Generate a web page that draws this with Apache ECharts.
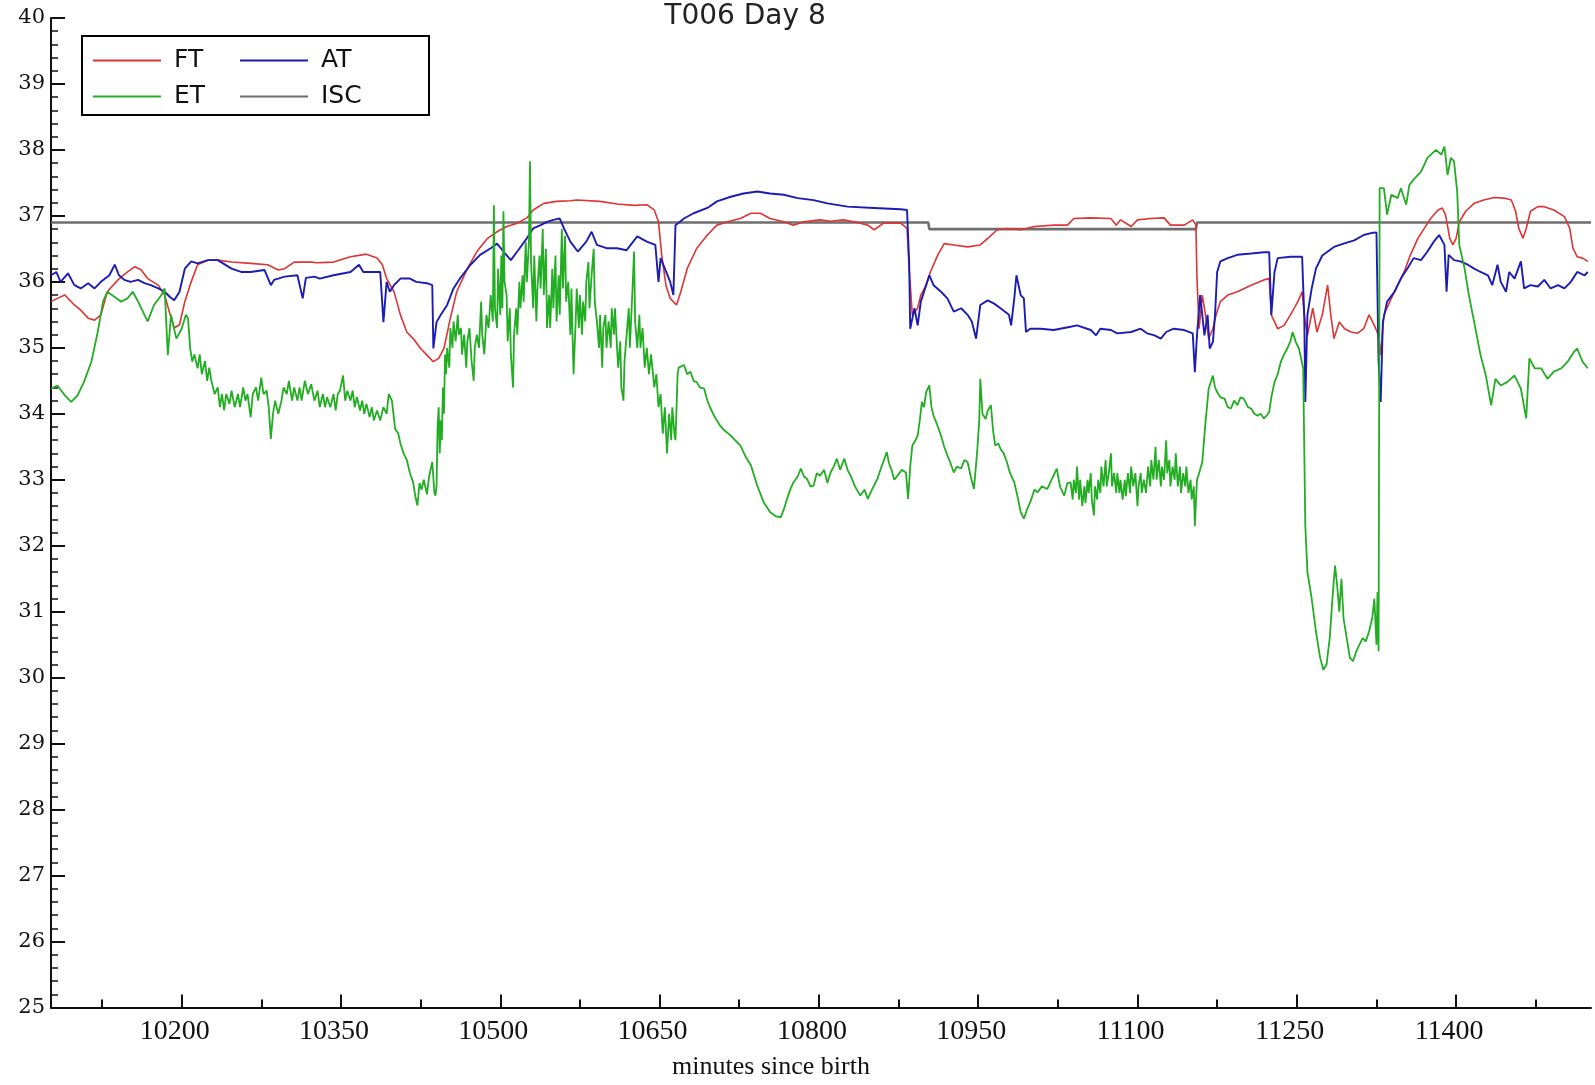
<!DOCTYPE html>
<html>
<head>
<meta charset="utf-8">
<script src="https://cdn.jsdelivr.net/npm/echarts@6/dist/echarts.min.js"></script>
<style>
html,body{margin:0;padding:0;background:#fff;}
#chart{width:1595px;height:1085px;}
</style>
</head>
<body>
<div id="chart"></div>
<script>
const titleText = 'T006 Day 8';
const xAxisName = 'minutes since birth';
const xMajorTicks = [10200, 10350, 10500, 10650, 10800, 10950, 11100, 11250, 11400];
const xMinorTicks = [10125, 10275, 10425, 10575, 10725, 10875, 11025, 11175, 11325, 11475];
const xRange = [10077, 11527];
const yRange = [25, 40];

const ftData = [
[10077,35.70],[10083,35.75],[10090,35.80],[10099,35.65],[10105,35.57],[10112,35.45],[10118,35.42],[10124,35.50],[10130,35.85],[10140,36.03],[10149,36.15],[10156,36.23],[10162,36.18],[10168,36.05],[10178,35.95],[10184,35.80],[10188,35.57],[10193,35.30],[10198,35.35],[10203,35.70],[10209,36.00],[10215,36.26],[10225,36.33],[10234,36.33],[10247,36.30],[10265,36.28],[10281,36.26],[10291,36.18],[10297,36.20],[10306,36.30],[10322,36.30],
[10327,36.29],[10343,36.30],[10359,36.38],[10374,36.42],[10384,36.36],[10389,36.26],[10393,36.05],[10400,35.85],[10406,35.50],[10412,35.24],[10418,35.14],[10425,34.99],[10431,34.89],[10437,34.79],[10442,34.84],[10447,34.99],[10453,35.45],[10459,35.85],[10469,36.20],[10478,36.46],[10488,36.66],[10497,36.76],[10506,36.84],[10516,36.89],[10525,36.97],[10531,37.09],[10541,37.19],[10553,37.22],[10566,37.23],
[10572,37.24],[10594,37.22],[10610,37.18],[10626,37.16],[10638,37.17],[10645,37.09],[10649,36.91],[10652,36.41],[10656,35.95],[10660,35.75],[10666,35.65],[10670,35.85],[10676,36.20],[10685,36.51],[10695,36.71],[10704,36.86],[10714,36.91],[10726,36.96],[10736,37.04],[10745,37.04],[10754,36.96],[10767,36.91],[10776,36.86],[10786,36.91],[10801,36.94],
[10811,36.92],[10823,36.94],[10839,36.89],[10846,36.86],[10852,36.79],[10861,36.89],[10877,36.89],[10883,36.81],[10885,36.20],[10888,35.50],[10893,35.60],[10896,35.80],[10901,35.95],[10905,36.15],[10912,36.41],[10918,36.58],[10927,36.56],[10940,36.53],[10952,36.56],[10959,36.66],[10968,36.79],[10977,36.81],[10990,36.79],[11003,36.84],[11021,36.86],[11034,36.86],
[11040,36.96],[11056,36.97],[11075,36.96],[11080,36.86],[11084,36.94],[11094,36.84],[11100,36.94],[11112,36.96],[11125,36.97],[11131,36.86],[11144,36.86],[11152,36.94],[11155,36.86],[11156,36.05],[11158,35.29],[11161,35.80],[11164,35.50],[11167,35.14],[11171,35.29],[11174,35.50],[11178,35.70],[11185,35.80],[11194,35.85],[11207,35.95],[11219,36.03],[11224,36.05],[11226,35.50],[11232,35.29],[11238,35.34],[11244,35.50],[11251,35.70],[11255,35.85],[11257,35.50],
[11260,35.19],[11265,35.60],[11269,35.24],[11274,35.50],[11279,35.95],[11282,35.50],[11285,35.14],[11290,35.39],[11295,35.29],[11301,35.24],[11307,35.22],[11313,35.29],[11318,35.50],[11323,35.34],[11327,35.19],[11329,34.89],[11332,35.50],[11339,35.75],[11345,35.95],[11351,36.15],[11357,36.41],[11364,36.66],[11370,36.81],[11376,36.96],[11383,37.09],[11387,37.12],[11390,37.02],[11394,36.66],[11397,36.56],[11400,36.66],[11403,36.91],[11409,37.07],[11417,37.19],[11426,37.24],[11436,37.28],[11445,37.27],[11452,37.24],[11456,37.07],[11459,36.81],[11463,36.66],[11466,36.81],[11470,37.07],[11477,37.14],[11483,37.14],[11492,37.09],[11502,36.99],[11507,36.81],[11510,36.51],[11514,36.38],[11519,36.36],[11524,36.31]
];

const atData = [
[10077,36.10],[10082,36.15],[10086,36.00],[10093,36.13],[10099,35.95],[10105,35.90],[10112,35.98],[10118,35.90],[10124,36.00],[10132,36.10],[10137,36.26],[10141,36.10],[10146,36.03],[10152,36.00],[10159,36.03],[10165,35.98],[10171,35.95],[10178,35.90],[10184,35.85],[10189,35.77],[10193,35.72],[10198,35.85],[10203,36.20],[10209,36.31],[10215,36.28],[10225,36.33],[10234,36.33],[10247,36.20],[10256,36.15],[10265,36.15],[10278,36.18],[10284,35.95],[10287,36.03],[10297,36.08],[10309,36.10],[10314,35.75],[10317,36.06],[10325,36.08],
[10330,36.05],[10343,36.10],[10359,36.15],[10367,36.26],[10371,36.15],[10387,36.15],[10390,35.39],[10393,36.00],[10396,35.85],[10400,35.95],[10406,36.05],[10415,36.05],[10421,36.00],[10431,35.98],[10436,35.95],[10437,34.99],[10440,35.39],[10444,35.50],[10450,35.65],[10456,35.90],[10462,36.05],[10472,36.26],[10481,36.41],[10491,36.51],[10497,36.58],[10503,36.46],[10510,36.33],[10516,36.46],[10525,36.66],[10531,36.81],[10538,36.86],[10544,36.91],[10550,36.94],[10556,36.96],[10560,36.81],
[10566,36.61],[10573,36.46],[10581,36.61],[10586,36.76],[10591,36.56],[10600,36.51],[10610,36.51],[10619,36.48],[10629,36.69],[10638,36.61],[10646,36.56],[10649,36.00],[10651,36.36],[10655,36.20],[10660,36.00],[10663,35.80],[10665,36.86],[10673,36.96],[10682,37.04],[10695,37.12],[10704,37.22],[10717,37.29],[10729,37.34],[10742,37.37],[10754,37.34],[10767,37.32],[10780,37.27],[10795,37.24],
[10808,37.19],[10827,37.14],[10852,37.12],[10877,37.10],[10883,37.09],[10885,36.31],[10886,35.29],[10890,35.60],[10893,35.34],[10896,35.70],[10901,35.95],[10904,36.10],[10908,35.95],[10915,35.85],[10921,35.75],[10927,35.55],[10934,35.60],[10940,35.50],[10944,35.40],[10948,35.14],[10952,35.65],[10959,35.72],[10965,35.67],[10971,35.60],[10979,35.50],[10981,35.34],[10984,35.75],[10986,36.10],[10990,35.80],[10993,35.75],[10995,35.24],[10999,35.29],[11009,35.29],[11021,35.27],[11037,35.32],
[11043,35.34],[11056,35.27],[11061,35.19],[11065,35.29],[11075,35.27],[11081,35.22],[11094,35.24],[11103,35.29],[11109,35.22],[11116,35.19],[11122,35.14],[11127,35.24],[11134,35.29],[11144,35.27],[11152,35.22],[11154,34.63],[11156,35.19],[11159,35.80],[11161,35.50],[11163,35.19],[11166,35.50],[11168,34.99],[11171,35.09],[11173,35.50],[11175,36.15],[11178,36.31],[11185,36.36],[11194,36.41],[11207,36.43],[11219,36.45],[11224,36.45],[11226,35.50],[11229,36.15],[11232,36.36],[11244,36.38],[11255,36.38],[11257,35.50],[11258,34.18],[11260,35.50],[11264,35.90],[11268,36.20],[11274,36.40],[11285,36.53],[11294,36.58],[11304,36.63],[11313,36.71],[11320,36.74],[11325,36.75],[11327,34.79],[11329,34.18],[11331,35.39],[11335,35.70],[11342,35.85],[11348,36.05],[11354,36.20],[11360,36.36],[11367,36.33],[11373,36.46],[11379,36.61],[11384,36.71],[11389,36.56],[11391,35.85],[11393,36.41],[11398,36.33],[11404,36.31],[11411,36.26],[11417,36.20],[11423,36.15],[11430,36.10],[11434,35.95],[11439,36.26],[11442,36.00],[11447,35.85],[11450,36.15],[11455,36.05],[11461,36.31],[11464,35.90],[11470,35.95],[11477,35.93],[11483,36.03],[11489,35.90],[11496,35.95],[11502,35.90],[11508,36.00],[11514,36.15],[11521,36.10],[11524,36.15]
];

const etData = [
[10077,34.38],[10083,34.43],[10090,34.28],[10096,34.18],[10102,34.28],[10108,34.48],[10115,34.79],[10121,35.24],[10126,35.70],[10130,35.85],[10137,35.77],[10143,35.70],[10149,35.75],[10154,35.85],[10159,35.70],[10165,35.50],[10168,35.40],[10174,35.65],[10181,35.80],[10184,35.90],[10187,34.89],[10190,35.50],[10195,35.14],[10200,35.29],[10204,35.50],
[10206,35.45],[10208,35.00],[10210,34.79],[10212,34.90],[10215,34.69],[10217,34.90],[10219,34.60],[10222,34.80],[10224,34.50],[10226,34.70],[10228,34.50],[10231,34.30],[10234,34.40],[10236,34.10],[10238,34.30],[10240,34.05],[10242,34.30],[10245,34.15],[10247,34.35],[10250,34.10],[10253,34.30],[10255,34.10],[10258,34.40],[10260,34.20],[10262,34.30],[10265,33.95],[10267,34.30],[10270,34.40],[10272,34.20],[10275,34.55],[10277,34.30],[10280,34.35],[10282,34.10],[10284,33.62],[10286,34.00],[10288,34.20],[10291,34.00],[10294,34.20],[10296,34.40],[10299,34.30],[10301,34.50],[10304,34.20],[10306,34.40],[10309,34.20],[10311,34.40],[10313,34.20],[10316,34.50],[10319,34.30],[10322,34.45],[10325,34.20],
[10328,34.35],[10330,34.10],[10333,34.30],[10335,34.10],[10337,34.25],[10340,34.10],[10343,34.30],[10345,34.05],[10347,34.30],[10349,34.35],[10352,34.58],[10354,34.20],[10356,34.35],[10359,34.20],[10361,34.35],[10363,34.10],[10365,34.25],[10368,34.05],[10370,34.20],[10372,34.00],[10374,34.15],[10377,33.95],[10379,34.10],[10381,33.90],[10384,34.05],[10387,33.90],[10390,34.10],[10393,34.00],[10395,34.30],[10398,34.20],[10401,33.77],[10404,33.70],[10406,33.55],[10409,33.40],[10412,33.30],[10415,33.10],[10418,32.96],[10420,32.75],[10422,32.61],[10424,32.95],[10426,32.85],[10428,33.00],[10431,32.78],[10433,33.05],[10436,33.27],[10438,32.80],[10439,32.76],
[10440,32.90],[10441,33.80],[10442,34.10],[10443,33.40],[10444,33.90],[10445,33.60],[10446,34.40],[10447,34.00],[10448,34.90],[10449,34.60],[10450,35.00],[10452,34.70],[10453,35.30],[10455,35.00],[10456,35.40],[10458,35.10],[10460,35.50],[10461,35.20],[10463,35.30],[10464,34.90],[10466,35.20],[10468,34.70],[10469,35.10],[10471,35.30],[10473,34.80],[10475,34.50],[10476,35.00],[10478,35.20],[10480,35.00],[10482,35.70],[10483,35.20],[10485,34.90],[10487,35.50],[10489,35.30],[10491,35.80],[10493,35.40],[10494,37.16],[10495,35.60],[10497,35.30],[10498,36.20],[10500,35.50],[10501,36.40],[10502,35.60],[10503,37.07],[10504,36.00],[10506,35.80],[10507,35.10],[10509,35.60],[10510,34.90],[10512,34.40],[10513,35.20],[10515,35.60],[10516,35.20],[10518,36.00],[10519,35.60],[10521,36.10],[10522,35.70],[10524,36.60],[10525,36.00],[10527,36.60],[10528,37.83],[10529,36.30],[10531,35.60],[10532,36.40],[10534,35.40],[10535,35.90],[10537,36.40],[10538,35.90],[10540,36.80],[10541,35.80],[10543,36.50],[10544,35.30],[10546,35.80],[10547,35.30],[10549,36.20],[10550,35.60],[10552,36.40],[10553,35.40],[10555,36.10],[10556,35.50],[10558,36.80],[10559,35.90],[10561,36.70],[10562,35.70],[10564,36.00],[10566,35.20],[10567,35.90],[10569,34.60],[10571,35.40],[10572,35.90],[10574,35.30],[10575,35.80],[10577,35.20],[10578,35.70],[10580,35.40],[10581,36.00],[10583,36.30],[10584,35.60],[10586,36.10],[10588,36.50],[10589,35.70],[10591,35.40],[10593,35.00],[10594,35.50],[10596,34.70],[10597,35.30],[10599,35.50],[10600,35.00],[10602,35.40],[10604,35.00],[10605,35.60],[10607,35.20],[10608,35.60],[10610,35.00],[10611,34.70],[10613,35.10],[10614,34.40],[10616,34.20],[10617,34.80],[10619,35.20],[10621,35.60],[10622,35.00],[10624,35.70],[10626,36.46],[10627,35.40],[10629,35.00],[10631,35.50],[10632,35.00],[10634,35.30],[10636,34.70],[10638,35.00],[10640,34.60],[10642,34.90],[10645,34.40],[10647,34.60],[10649,34.10],[10651,34.30],[10653,33.70],[10655,34.10],[10657,33.40],[10659,34.00],[10661,33.60],[10662,34.10],[10664,33.70],[10665,33.60],[10667,34.60],[10668,34.70],
[10673,34.74],[10676,34.60],[10679,34.64],[10682,34.50],[10685,34.48],[10688,34.40],[10692,34.38],[10695,34.20],[10698,34.08],[10702,33.95],[10707,33.82],[10711,33.75],[10717,33.67],[10721,33.60],[10726,33.52],[10731,33.35],[10736,33.22],[10742,32.91],[10748,32.66],[10754,32.51],[10759,32.45],[10764,32.43],[10767,32.55],[10770,32.71],[10773,32.85],[10776,32.96],[10780,33.05],[10783,33.17],[10786,33.05],[10789,33.01],[10792,32.90],[10795,32.91],
[10798,33.10],[10801,33.06],[10805,33.15],[10808,32.95],[10811,33.11],[10814,33.20],[10817,33.32],[10820,33.15],[10824,33.32],[10827,33.15],[10830,33.06],[10834,32.90],[10839,32.76],[10843,32.85],[10846,32.71],[10850,32.85],[10855,33.01],[10859,33.20],[10864,33.42],[10866,33.25],[10868,33.17],[10871,33.00],[10874,33.06],[10878,33.15],[10882,33.11],[10884,32.71],[10886,33.20],[10888,33.52],[10891,33.60],[10893,33.67],[10895,33.90],[10897,34.18],[10899,34.10],[10901,34.33],[10904,34.43],[10906,34.10],[10908,33.97],[10911,33.85],[10915,33.67],[10918,33.50],[10921,33.37],[10924,33.25],[10927,33.11],[10930,33.20],[10934,33.17],[10937,33.30],[10940,33.27],[10943,33.05],[10946,32.86],[10949,33.42],[10951,33.90],[10952,34.53],[10954,34.00],[10957,33.92],[10959,34.05],[10962,34.13],[10964,33.75],[10966,33.52],[10969,33.55],[10971,33.47],[10974,33.40],[10977,33.27],[10980,33.10],[10984,32.96],[10987,32.75],[10990,32.51],[10993,32.41],[10996,32.55],[10999,32.66],[11003,32.85],[11006,32.81],[11010,32.90],[11015,32.86],[11019,33.00],[11024,33.17],[11027,32.90],[11031,32.76],[11034,32.95],
[11037,32.96],[11039,32.70],[11040,33.00],[11042,32.80],[11043,33.20],[11045,32.70],[11046,33.00],[11048,32.60],[11050,32.90],[11051,32.65],[11053,33.00],[11054,32.80],[11056,33.10],[11057,32.70],[11059,32.46],[11060,32.90],[11062,32.70],[11063,33.00],[11065,32.80],[11066,33.20],[11068,32.90],[11070,33.30],[11071,32.90],[11073,33.10],[11075,33.40],[11076,32.90],[11078,33.10],[11080,32.80],[11081,33.10],[11083,32.80],[11084,33.00],[11086,32.70],[11088,33.00],[11089,32.75],[11091,33.10],[11093,32.80],[11094,33.20],[11096,32.90],[11098,33.10],[11100,32.60],[11101,32.90],[11103,33.10],[11104,32.80],[11106,33.00],[11108,32.80],[11110,33.20],[11112,32.90],[11113,33.30],[11115,33.00],[11117,33.50],[11118,33.00],[11120,33.30],[11122,32.90],[11123,33.20],[11125,33.00],[11127,33.60],[11128,33.10],[11130,33.30],[11131,32.90],[11133,33.20],[11135,33.00],[11136,33.40],[11138,32.90],[11140,33.20],[11141,32.80],[11143,33.10],[11145,32.90],[11146,33.20],[11148,32.80],[11150,33.00],[11151,32.70],[11153,32.90],[11154,32.30],[11156,33.00],
[11158,33.10],[11161,33.27],[11164,33.87],[11167,34.38],[11171,34.58],[11173,34.40],[11175,34.33],[11178,34.25],[11182,34.23],[11185,34.10],[11188,34.08],[11191,34.20],[11194,34.13],[11197,34.25],[11200,34.23],[11204,34.10],[11207,34.08],[11210,34.00],[11213,33.97],[11216,34.00],[11219,33.93],[11222,33.98],[11224,34.03],[11226,34.25],[11229,34.48],[11232,34.60],[11235,34.79],[11238,34.90],[11241,34.99],[11244,35.10],[11246,35.24],[11249,35.09],[11252,34.99],[11256,34.69],[11258,32.30],
[11260,31.60],[11264,31.20],[11268,30.70],[11272,30.30],[11275,30.12],[11278,30.20],[11281,30.60],[11284,31.30],[11286,31.70],[11288,31.40],[11290,31.00],[11292,31.50],[11294,30.90],[11297,30.60],[11300,30.30],[11303,30.25],[11306,30.40],[11309,30.50],[11312,30.60],[11315,30.55],[11318,30.70],[11321,30.90],[11323,31.20],[11325,30.50],[11326,31.30],[11327,30.40],[11328,37.42],
[11332,37.42],[11335,37.02],[11339,37.32],[11345,37.27],[11348,37.42],[11353,37.17],[11356,37.47],[11361,37.57],[11367,37.67],[11373,37.88],[11381,38.00],[11386,37.93],[11389,38.05],[11392,37.62],[11395,37.88],[11398,37.83],[11401,37.37],[11403,36.56],[11408,36.20],[11412,35.80],[11417,35.39],[11423,34.89],[11428,34.58],[11433,34.13],[11437,34.53],[11442,34.43],[11448,34.48],[11455,34.58],[11461,34.38],[11466,33.93],[11469,34.84],[11474,34.69],[11480,34.69],[11486,34.53],[11492,34.64],[11499,34.69],[11505,34.79],[11511,34.94],[11514,34.99],[11519,34.79],[11524,34.69]
];

const iscData = [[10077,36.90],[10903,36.90],[10904,36.80],[11155,36.80],[11156,36.90],[11527,36.90]];

const colors = {FT:'#dd3434', AT:'#1c1cb4', ET:'#22ad22', ISC:'#6e6e6e'};

const chart = echarts.init(document.getElementById('chart'), null, {renderer:'canvas'});
const axisBlack = '#111';
const option = {
  animation: false,
  backgroundColor: '#fff',
  title: {
    text: titleText,
    left: 740, top: -2, textAlign: 'center',
    textStyle: {fontFamily: 'DejaVu Sans', fontSize: 28, fontWeight: 'normal', color: '#222'}
  },
  legend: {
    orient: 'vertical',
    left: 82, top: 36,
    height: 70,
    data: ['FT', 'ET', 'AT', 'ISC'],
    icon: 'rect',
    itemWidth: 68, itemHeight: 2, itemGap: 11,
    padding: [12, 53, 6, 11],
    backgroundColor: '#fff',
    borderColor: '#000', borderWidth: 2, borderRadius: 0,
    textStyle: {fontFamily: 'DejaVu Sans', fontSize: 25, color: '#111', width: 55, padding: [0, 0, 0, 8], backgroundColor: 'rgba(255,255,255,0)'}
  },
  grid: {left: 51, right: 4, top: 18, bottom: 77.5, containLabel: false, outerBoundsMode: 'none'},
  xAxis: [{
    type: 'value', min: xRange[0], max: xRange[1], position: 'bottom',
    name: xAxisName, nameLocation: 'middle', nameGap: 47,
    nameTextStyle: {fontFamily: 'Liberation Serif', fontSize: 26, color: '#111', padding: [0, 100, 0, 0]},
    axisLine: {show: true, lineStyle: {color: axisBlack, width: 2}},
    axisTick: {show: true, inside: true, length: 13, customValues: xMajorTicks, lineStyle: {color: axisBlack, width: 2}},
    axisLabel: {show: true, customValues: xMajorTicks, margin: 10, fontFamily: 'Liberation Serif', fontSize: 28, color: '#111', padding: [0, 14, 0, 0], formatter: v => String(v)},
    splitLine: {show: false}
  }, {
    type: 'value', min: xRange[0], max: xRange[1], position: 'bottom',
    axisLine: {show: false},
    axisTick: {show: true, inside: true, length: 8, customValues: xMinorTicks, lineStyle: {color: axisBlack, width: 2}},
    axisLabel: {show: false},
    splitLine: {show: false}
  }],
  yAxis: {
    type: 'value', min: yRange[0], max: yRange[1], interval: 1,
    axisLine: {show: true, lineStyle: {color: axisBlack, width: 2}},
    axisTick: {show: true, inside: true, length: 14, lineStyle: {color: axisBlack, width: 2}},
    minorTick: {show: true, splitNumber: 5, length: 7, lineStyle: {color: axisBlack, width: 1.5}},
    axisLabel: {margin: 6, fontFamily: 'DejaVu Serif', fontSize: 21, color: '#111'},
    splitLine: {show: false}
  },
  series: [
    {name: 'ISC', type: 'line', data: iscData, symbol: 'none', lineStyle: {color: colors.ISC, width: 2.6}, itemStyle: {color: colors.ISC}, z: 2},
    {name: 'FT', type: 'line', data: ftData, symbol: 'none', lineStyle: {color: colors.FT, width: 1.6}, itemStyle: {color: colors.FT}, z: 3},
    {name: 'AT', type: 'line', data: atData, symbol: 'none', lineStyle: {color: colors.AT, width: 1.9}, itemStyle: {color: colors.AT}, z: 4},
    {name: 'ET', type: 'line', data: etData, symbol: 'none', lineStyle: {color: colors.ET, width: 1.8}, itemStyle: {color: colors.ET}, z: 5}
  ]
};
chart.setOption(option);
</script>
</body>
</html>
